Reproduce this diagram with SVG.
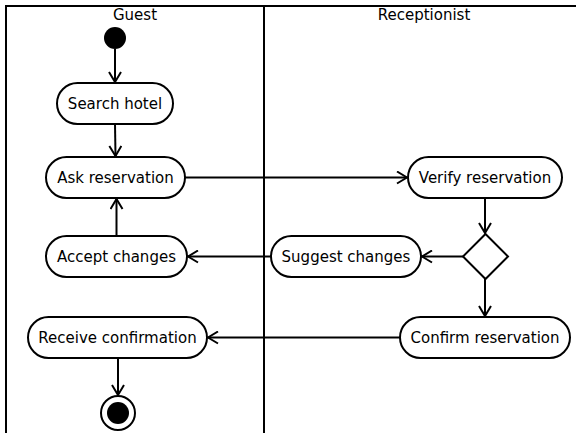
<svg xmlns="http://www.w3.org/2000/svg" width="576" height="433" viewBox="0 0 576 433">
  <style>
    .lane { fill: none; stroke: #000; stroke-width: 2; }
    .act { fill: #fff; stroke: #000; stroke-width: 2; }
    .lbl { font-family: "DejaVu Sans", sans-serif; font-size: 15px; fill: #000; text-anchor: middle; dominant-baseline: central; }
    .hdr { font-family: "DejaVu Sans", sans-serif; font-size: 15px; fill: #000; text-anchor: middle; dominant-baseline: central; }
    .flow { fill: none; stroke: #000; stroke-width: 2; marker-end: url(#open); }
  </style>
  <defs>
    <marker id="open" viewBox="0 0 12 14" refX="11" refY="7" markerWidth="12" markerHeight="14" markerUnits="userSpaceOnUse" orient="auto">
      <path d="M1,1 L11,7 L1,13" fill="none" stroke="#000" stroke-width="2"/>
    </marker>
  </defs>
  <rect width="576" height="433" fill="#fff"/>

  <!-- swimlanes -->
  <g id="lanes">
    <path class="lane" d="M6,433 V6 H576"/>
    <path class="lane" d="M264,6 V433"/>
    <text class="hdr" x="135" y="15">Guest</text>
    <text class="hdr" x="424" y="15">Receptionist</text>
  </g>

  <!-- control flows -->
  <g id="connectors">
    <path class="flow" d="M115,49 V82"/>
    <path class="flow" d="M115,124 L115.5,156"/>
    <path class="flow" d="M185,177.5 H407"/>
    <path class="flow" d="M485,198 V233"/>
    <path class="flow" d="M463,256.5 H422"/>
    <path class="flow" d="M485,279 V316"/>
    <path class="flow" d="M271,256.5 H188"/>
    <path class="flow" d="M116.5,236 V199"/>
    <path class="flow" d="M400,337.5 H208"/>
    <path class="flow" d="M118,358 V395"/>
  </g>

  <g id="start">
    <circle cx="115" cy="38" r="11" fill="#000"/>
  </g>
  <g id="search-hotel">
    <rect class="act" x="57" y="83" width="116" height="41" rx="20.5"/>
    <text class="lbl" x="115" y="103.5">Search hotel</text>
  </g>
  <g id="ask-reservation">
    <rect class="act" x="46" y="157" width="139" height="41" rx="20.5"/>
    <text class="lbl" x="115.5" y="177.5">Ask reservation</text>
  </g>
  <g id="accept-changes">
    <rect class="act" x="46" y="236" width="141" height="41" rx="20.5"/>
    <text class="lbl" x="116.5" y="256.5">Accept changes</text>
  </g>
  <g id="receive-confirmation">
    <rect class="act" x="28" y="317" width="179" height="41" rx="20.5"/>
    <text class="lbl" x="117.5" y="337.5">Receive confirmation</text>
  </g>
  <g id="end">
    <circle cx="118" cy="413" r="17" fill="#fff" stroke="#000" stroke-width="2"/>
    <circle cx="118" cy="413" r="11" fill="#000"/>
  </g>
  <g id="verify-reservation">
    <rect class="act" x="408" y="157" width="154" height="41" rx="20.5"/>
    <text class="lbl" x="485" y="177.5">Verify reservation</text>
  </g>
  <g id="decision">
    <path class="act" d="M485.5,234 L508,256.5 L485.5,279 L463,256.5 Z"/>
  </g>
  <g id="suggest-changes">
    <rect class="act" x="271" y="236" width="150" height="41" rx="20.5"/>
    <text class="lbl" x="346" y="256.5">Suggest changes</text>
  </g>
  <g id="confirm-reservation">
    <rect class="act" x="400" y="317" width="170" height="41" rx="20.5"/>
    <text class="lbl" x="485" y="337.5">Confirm reservation</text>
  </g>
</svg>
